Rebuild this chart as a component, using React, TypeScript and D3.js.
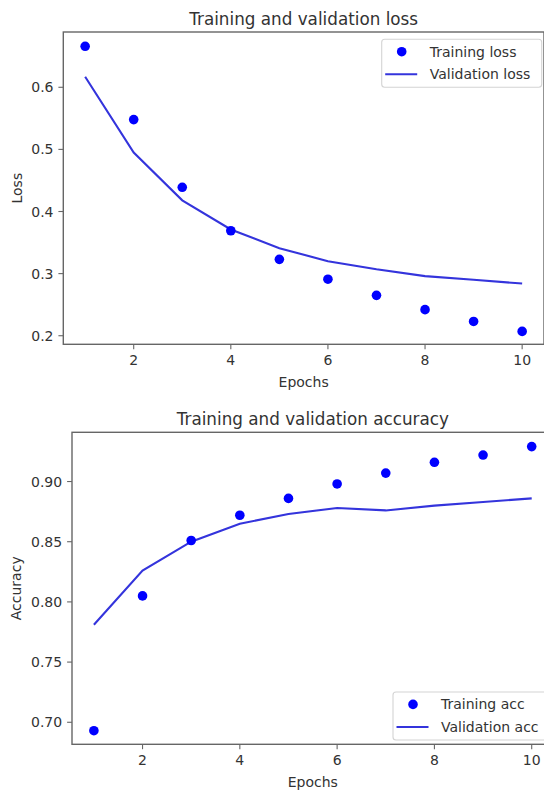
import React from "react";
import * as d3 from "d3";

const epochs = [1, 2, 3, 4, 5, 6, 7, 8, 9, 10];
const trainLoss = [0.666, 0.548, 0.439, 0.369, 0.323, 0.291, 0.265, 0.242, 0.223, 0.207];
const valLoss = [0.617, 0.495, 0.418, 0.371, 0.341, 0.32, 0.307, 0.296, 0.29, 0.284];
const trainAcc = [0.693, 0.805, 0.851, 0.872, 0.886, 0.898, 0.907, 0.916, 0.922, 0.929];
const valAcc = [0.781, 0.826, 0.85, 0.865, 0.873, 0.878, 0.876, 0.88, 0.883, 0.886];

const xTicks = [2, 4, 6, 8, 10];
const lossTicks = [0.2, 0.3, 0.4, 0.5, 0.6];
const accTicks = [0.7, 0.75, 0.8, 0.85, 0.9];
const xLim: [number, number] = [0.55, 10.45];
const lossYLim: [number, number] = [0.1862, 0.689];
const accYLim: [number, number] = [0.6817, 0.9409];

const FONT = "DejaVu Sans, sans-serif";
const TEXT = "#333";
const SPINE = "#666";
const DOT = "#0000ff";
const LINE = "#3434dc";

type PanelProps = {
  left: number; right: number; top: number; bottom: number;
  yLim: [number, number]; yTicks: number[]; yFmt: (v: number) => string;
  train: number[]; val: number[];
  title: string; yLabel: string; yLabelX: number;
  legend: { x: number; y: number; w: number; h: number; labels: [string, string] };
  clipId: string;
};

function Panel(p: PanelProps) {
  const x = d3.scaleLinear().domain(xLim).range([p.left, p.right]);
  const y = d3.scaleLinear().domain(p.yLim).range([p.bottom, p.top]);
  const line = d3.line<number>().x((_, i) => x(epochs[i])).y((d) => y(d));
  const cx = (p.left + p.right) / 2;
  const lg = p.legend;
  const row1 = lg.y + 12.4;
  const row2 = lg.y + 35;
  return (
    <g>
      <defs>
        <clipPath id={p.clipId}>
          <rect x={p.left} y={p.top} width={p.right - p.left} height={p.bottom - p.top} />
        </clipPath>
      </defs>
      <text x={cx} y={p.top - 7.5} textAnchor="middle" fontSize={16.8} fill={TEXT} fontFamily={FONT}>{p.title}</text>
      <g clipPath={`url(#${p.clipId})`}>
        <path d={line(p.val) || ""} fill="none" stroke={LINE} strokeWidth={2.1} />
        {p.train.map((v, i) => (
          <circle key={i} cx={x(epochs[i])} cy={y(v)} r={4.8} fill={DOT} />
        ))}
      </g>
      <rect x={p.left} y={p.top} width={p.right - p.left} height={p.bottom - p.top} fill="none" stroke={SPINE} strokeWidth={1.4} />
      {xTicks.map((t) => (
        <g key={t}>
          <line x1={x(t)} x2={x(t)} y1={p.bottom} y2={p.bottom + 4.9} stroke={SPINE} strokeWidth={1.1} />
          <text x={x(t)} y={p.bottom + 20.5} textAnchor="middle" fontSize={14} fill={TEXT} fontFamily={FONT}>{t}</text>
        </g>
      ))}
      {p.yTicks.map((t) => (
        <g key={t}>
          <line x1={p.left - 4.9} x2={p.left} y1={y(t)} y2={y(t)} stroke={SPINE} strokeWidth={1.1} />
          <text x={p.left - 9.8} y={y(t)} dy="0.36em" textAnchor="end" fontSize={14} fill={TEXT} fontFamily={FONT}>{p.yFmt(t)}</text>
        </g>
      ))}
      <text x={cx} y={p.bottom + 43} textAnchor="middle" fontSize={14} fill={TEXT} fontFamily={FONT}>Epochs</text>
      <text transform={`translate(${p.yLabelX},${(p.top + p.bottom) / 2}) rotate(-90)`} textAnchor="middle" fontSize={14} fill={TEXT} fontFamily={FONT}>{p.yLabel}</text>
      <rect x={lg.x} y={lg.y} width={lg.w} height={lg.h} rx={3} fill="#fff" fillOpacity={0.8} stroke="#d4d4d4" strokeWidth={1.1} />
      <circle cx={lg.x + 20} cy={row1} r={4.8} fill={DOT} />
      <line x1={lg.x + 3.5} x2={lg.x + 35.5} y1={row2} y2={row2} stroke={LINE} strokeWidth={2.1} />
      <text x={lg.x + 48} y={row1} dy="0.36em" fontSize={14} fill={TEXT} fontFamily={FONT}>{lg.labels[0]}</text>
      <text x={lg.x + 48} y={row2} dy="0.36em" fontSize={14} fill={TEXT} fontFamily={FONT}>{lg.labels[1]}</text>
    </g>
  );
}

export default function App() {
  return (
    <svg width={544} height={792} style={{ position: "absolute", left: 0, top: 0, background: "#fff" }}>
      <rect width={544} height={792} fill="#fff" />
      <Panel
        left={63.3} right={544} top={32} bottom={344.3}
        yLim={lossYLim} yTicks={lossTicks} yFmt={d3.format(".1f")}
        train={trainLoss} val={valLoss}
        title="Training and validation loss" yLabel="Loss" yLabelX={22}
        legend={{ x: 381.7, y: 39.3, w: 160, h: 48, labels: ["Training loss", "Validation loss"] }}
        clipId="c1"
      />
      <Panel
        left={72} right={553.6} top={432.3} bottom={744.3}
        yLim={accYLim} yTicks={accTicks} yFmt={d3.format(".2f")}
        train={trainAcc} val={valAcc}
        title="Training and validation accuracy" yLabel="Accuracy" yLabelX={21}
        legend={{ x: 393, y: 692, w: 157, h: 48, labels: ["Training acc", "Validation acc"] }}
        clipId="c2"
      />
    </svg>
  );
}
